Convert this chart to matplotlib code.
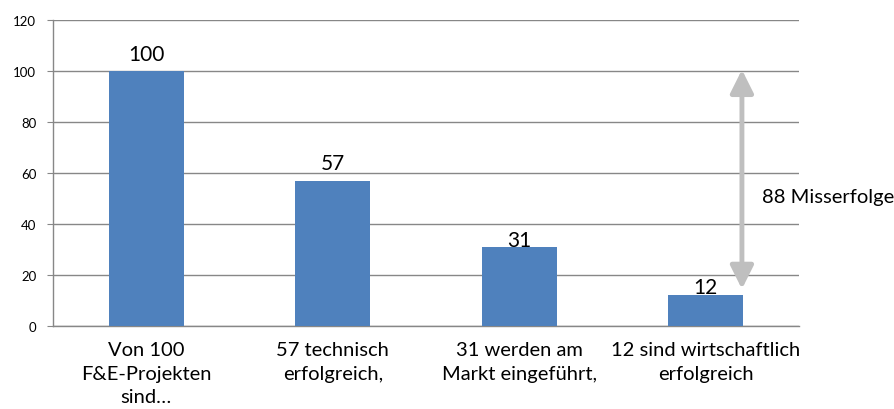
import matplotlib.pyplot as plt

categories = ["Von 100\nF&E-Projekten\nsind…", "57 technisch\nerfolgreich,",
              "31 werden am\nMarkt eingeführt,", "12 sind wirtschaftlich\nerfolgreich"]
values = [100, 57, 31, 12]
y_ticks = [0, 20, 40, 60, 80, 100, 120]

# label heights above bar (hand-placed in original)
label_pad = [4.3, 4.6, 0.4, 0.9]


def main():
    plt.rcParams['font.family'] = ['Lato', 'DejaVu Sans']
    fig = plt.figure(figsize=(8.95, 4.10), dpi=100)
    ax = fig.add_axes([53 / 895, 83 / 410, 746 / 895, 306 / 410])

    x = list(range(len(values)))
    ax.bar(x, values, width=0.4, color='#4F81BD', zorder=3)

    for i, v in enumerate(values):
        ax.text(i, v + label_pad[i], str(v), ha='center', va='baseline',
                fontsize=15, color='black', zorder=4)

    ax.set_xlim(-0.5, len(values) - 0.5)
    ax.set_ylim(0, 120)
    ax.set_yticks(y_ticks)
    ax.set_xticks(x)
    ax.set_xticklabels(categories, fontsize=14.5, linespacing=1.45)
    ax.tick_params(axis='x', length=0, pad=11)
    ax.tick_params(axis='y', length=4, pad=8, labelsize=9.5, color='#878787')

    ax.yaxis.grid(True, color='#878787', linewidth=1)
    ax.set_axisbelow(True)
    for s in ['top', 'right']:
        ax.spines[s].set_visible(False)
    for s in ['left', 'bottom']:
        ax.spines[s].set_color('#878787')
        ax.spines[s].set_linewidth(1)
        ax.spines[s].set_zorder(2)

    # double arrow showing the failures
    ax.annotate('', xy=(3.194, values[3] + 2.5), xytext=(3.194, values[0] + 0.5),
                arrowprops=dict(arrowstyle='<|-|>,head_length=1.0,head_width=0.5',
                                color='#BFBFBF', lw=3.5, shrinkA=0, shrinkB=0,
                                mutation_scale=14),
                zorder=5, annotation_clip=False)
    ax.text(3.30, 50.6, f"{values[0] - values[3]} Misserfolge", ha='left', va='center',
            fontsize=14.5, color='black', clip_on=False)

    fig.savefig("out.png", dpi=100)


if __name__ == "__main__":
    main()
